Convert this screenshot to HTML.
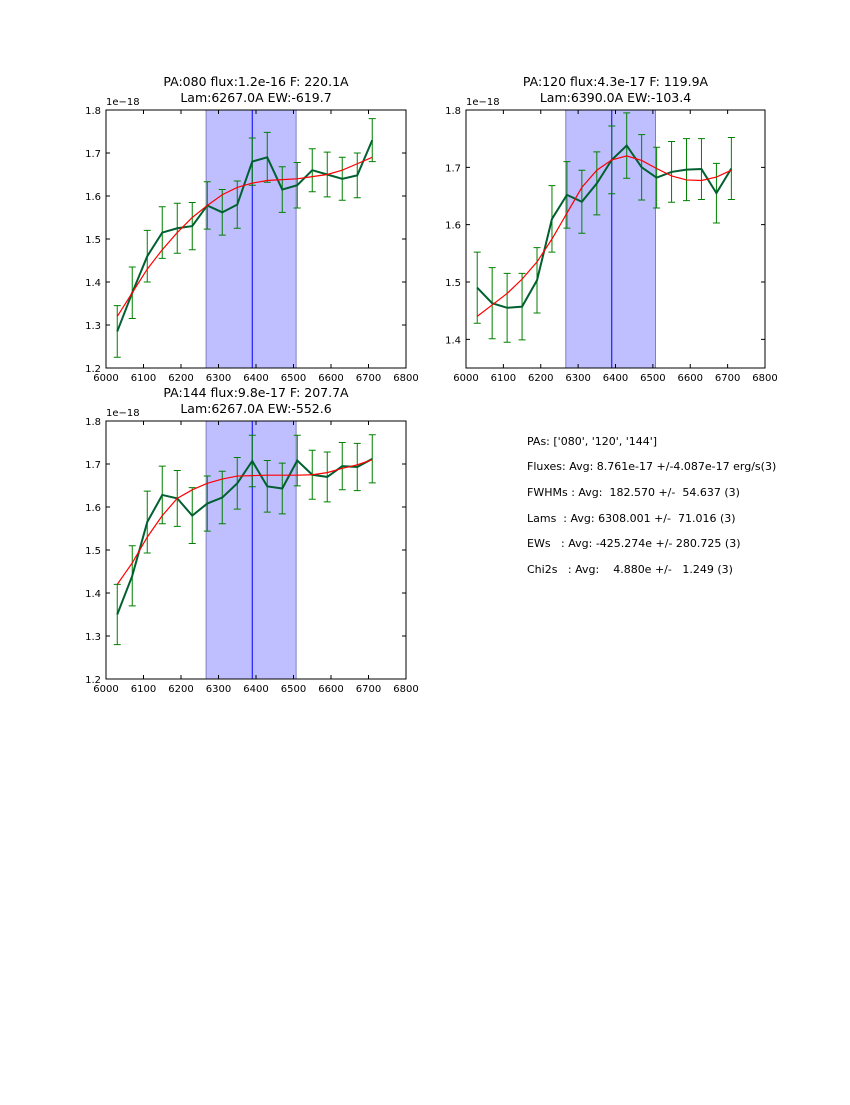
<!DOCTYPE html>
<html><head><meta charset="utf-8">
<style>
body{margin:0;background:#fff;}
svg text{font-family:"DejaVu Sans","Liberation Sans",sans-serif;fill:#000;}
#info text{white-space:pre;}
</style></head>
<body>
<svg id="fig" width="850" height="1100" xmlns="http://www.w3.org/2000/svg">
<rect width="850" height="1100" fill="#fff"/>
<g id="info" font-size="11" xml:space="preserve">
<text x="527" y="445">PAs: ['080', '120', '144']</text>
<text x="527" y="470">Fluxes: Avg: 8.761e-17 +/-4.087e-17 erg/s(3)</text>
<text x="527" y="496">FWHMs : Avg:  182.570 +/-  54.637 (3)</text>
<text x="527" y="522">Lams  : Avg: 6308.001 +/-  71.016 (3)</text>
<text x="527" y="547">EWs   : Avg: -425.274e +/- 280.725 (3)</text>
<text x="527" y="573">Chi2s   : Avg:    4.880e +/-   1.249 (3)</text>
</g>
</svg>
<script>
const waves=[6030,6070,6110,6150,6190,6230,6270,6310,6350,6390,6430,6470,6510,6550,6590,6630,6670,6710];
const flux1=[1.285,1.375,1.46,1.515,1.525,1.53,1.578,1.562,1.58,1.68,1.69,1.615,1.625,1.66,1.65,1.64,1.648,1.73];
const err1=[.06,.06,.06,.06,.058,.055,.055,.053,.055,.055,.058,.053,.053,.05,.052,.05,.052,.05];
const fit1=[1.32,1.375,1.43,1.475,1.515,1.55,1.578,1.603,1.62,1.63,1.636,1.638,1.64,1.645,1.65,1.66,1.675,1.69];
const flux2=[1.49,1.463,1.455,1.457,1.503,1.61,1.652,1.64,1.672,1.713,1.738,1.7,1.682,1.692,1.696,1.697,1.655,1.698];
const err2=[.062,.062,.06,.058,.057,.058,.058,.055,.055,.059,.057,.057,.053,.053,.054,.053,.052,.054];
const fit2=[1.44,1.46,1.48,1.505,1.535,1.575,1.62,1.665,1.695,1.713,1.72,1.712,1.698,1.685,1.678,1.677,1.683,1.695];
const flux3=[1.35,1.44,1.565,1.628,1.62,1.58,1.608,1.622,1.655,1.707,1.648,1.643,1.708,1.675,1.67,1.695,1.693,1.712];
const err3=[.07,.07,.072,.067,.065,.065,.064,.061,.06,.06,.06,.059,.059,.057,.058,.055,.055,.056];
const fit3=[1.42,1.47,1.53,1.58,1.62,1.64,1.655,1.665,1.672,1.673,1.674,1.674,1.674,1.675,1.68,1.69,1.698,1.71];
const xTicks=[6000,6100,6200,6300,6400,6500,6600,6700,6800];
const yTicks1=[1.2,1.3,1.4,1.5,1.6,1.7,1.8];
const yTicks2=[1.4,1.5,1.6,1.7,1.8];
const titles1=["PA:080 flux:1.2e-16 F: 220.1A","Lam:6267.0A EW:-619.7"];
const titles2=["PA:120 flux:4.3e-17 F: 119.9A","Lam:6390.0A EW:-103.4"];
const titles3=["PA:144 flux:9.8e-17 F: 207.7A","Lam:6267.0A EW:-552.6"];
const band1=[6267,6507], band2=[6267,6507], band3=[6267,6507];
const line1=6390, line2=6390, line3=6390;

const NS="http://www.w3.org/2000/svg";
const fig=document.getElementById('fig');
function mk(tag,attrs,parent){const e=document.createElementNS(NS,tag);for(const k in attrs)e.setAttribute(k,attrs[k]);parent.appendChild(e);return e;}

function panel(name,L,T,W,H,ymin,ymax,yticks,flux,err,fit,titles,band,vline){
  const g=mk('g',{},fig);
  
  
  const xs=v=>L+(v-6000)/800*W;
  const ys=v=>T+H-(v-ymin)/(ymax-ymin)*H;
  const b=mk('rect',{x:xs(band[0]),y:T,width:xs(band[1])-xs(band[0]),height:H,fill:'#bfbfff',stroke:'#8080c0','stroke-width':1},g);
  
  
  const vl=mk('line',{x1:xs(vline),x2:xs(vline),y1:T,y2:T+H,stroke:'#0000ff','stroke-width':1},g);
  
  
  waves.forEach((w,i)=>{
    const x=xs(w),y1=ys(flux[i]-err[i]),y2=ys(flux[i]+err[i]);
    const eb=mk('path',{d:`M${x},${y1}V${y2}M${x-3.5},${y1}H${x+3.5}M${x-3.5},${y2}H${x+3.5}`,stroke:'#008000','stroke-width':1,fill:'none'},g);
    
    
  });
  const dp=waves.map((w,i)=>(i?'L':'M')+xs(w)+','+ys(flux[i])).join('');
  const dl=mk('path',{d:dp,stroke:'#006030','stroke-width':2,fill:'none'},g);
  
  
  const fp=waves.map((w,i)=>(i?'L':'M')+xs(w)+','+ys(fit[i])).join('');
  const fl=mk('path',{d:fp,stroke:'#ff0000','stroke-width':1.2,fill:'none'},g);
  
  
  const fr=mk('rect',{x:L,y:T,width:W,height:H,fill:'none',stroke:'#000','stroke-width':1},g);
  
  
  xTicks.forEach(t=>{
    const x=xs(t);
    mk('path',{d:`M${x},${T+H}v-4M${x},${T}v4`,stroke:'#000','stroke-width':1},g);
    const tx=mk('text',{x:x,y:T+H+13,'font-size':10,'text-anchor':'middle'},g);
    tx.textContent=t;
    
    
  });
  yticks.forEach(t=>{
    const y=ys(t);
    mk('path',{d:`M${L},${y}h4M${L+W},${y}h-4`,stroke:'#000','stroke-width':1},g);
    const ty=mk('text',{x:L-5,y:y+4,'font-size':10,'text-anchor':'end'},g);
    ty.textContent=t.toFixed(1);
    
    
  });
  const off=mk('text',{x:L,y:T-5,'font-size':10},g);
  off.textContent='1e\u221218';
  
  
  titles.forEach((s,i)=>{
    const t=mk('text',{x:L+W/2,y:T-24+i*16,'font-size':12.5,'text-anchor':'middle'},g);
    t.textContent=s;
    
    
  });
}
panel('panel-pa080',106,110,300,258,1.2,1.8,yTicks1,flux1,err1,fit1,titles1,band1,line1);
panel('panel-pa120',466,110,299,258,1.35,1.8,yTicks2,flux2,err2,fit2,titles2,band2,line2);
panel('panel-pa144',106,421,300,258,1.2,1.8,yTicks1,flux3,err3,fit3,titles3,band3,line3);
</script>
</body></html>
